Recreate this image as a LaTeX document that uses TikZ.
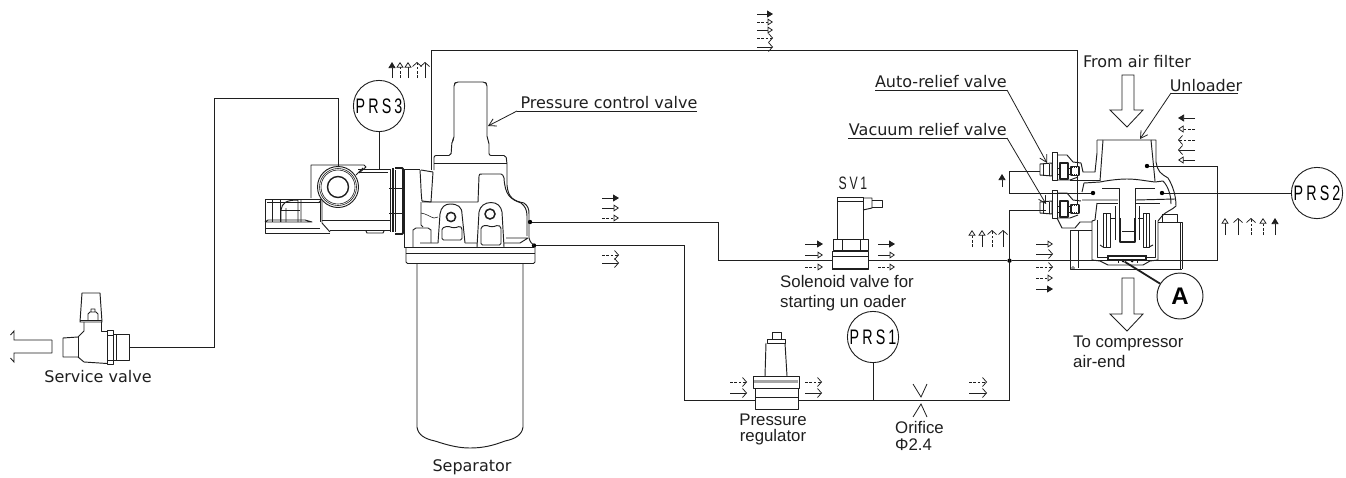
\documentclass[tikz,border=0pt]{standalone}
\usepackage{fontspec}
\setmainfont{Liberation Sans}
\newfontfamily\dvfont{DejaVu Sans}
\newfontfamily\prsfont[FakeStretch=0.68,LetterSpace=15]{Liberation Sans}
\usetikzlibrary{arrows.meta}
\definecolor{ink}{gray}{0.12}
\tikzset{
  pipe/.style={draw=ink,line width=0.95pt,line join=miter},
  part/.style={draw=ink,line width=0.95pt,line join=round},
  thin part/.style={draw=ink,line width=0.6pt,line join=round},
  heavy part/.style={draw=ink,line width=1.8pt,line join=round},
  leader/.style={draw=ink,line width=0.8pt},
  leader tip/.style={leader,-{Straight Barb[length=7pt,width=8pt]}},
  dot/.style={circle,fill=black,inner sep=0pt,minimum size=4.4pt},
  gauge/.style={circle,draw=ink,line width=0.9pt,fill=white,inner sep=0pt,minimum size=49pt,text width=49pt,align=center,font=\prsfont\fontsize{21}{21}\selectfont},
  dvlabel/.style={inner sep=0pt,text=ink,font=\dvfont\fontsize{16}{19}\selectfont},
  arlabel/.style={inner sep=0pt,text=ink,align=left,font=\fontsize{16.8}{20}\selectfont},
  fb/.style={draw=ink,line width=0.75pt,-{Triangle[length=6pt,width=7pt]}},
  fo/.style={draw=ink,line width=0.75pt,-{Triangle[open,fill=white,length=5.5pt,width=7pt]}},
  fv/.style={draw=ink,line width=0.75pt,-{Straight Barb[length=4pt,width=9pt]}},
  dsh/.style={dash pattern=on 2.6pt off 1.8pt},
  hollow/.style={draw=ink,line width=0.85pt,fill=white,line join=miter},
}
\newcommand{\flowh}[4]{\draw[#4] (#1,#3) -- (#2,#3);}
\newcommand{\flowv}[4]{\draw[#4] (#1,#2) -- (#1,#3);}
\newcommand{\reliefvalve}[1]{%
  \begin{scope}[shift={(0,#1)}]
    \draw[part] (1052,152) -- (1057,152) -- (1057,180) -- (1052,180) -- cycle;
    \draw[part] (1040,164) -- (1052,163) -- (1052,176) -- (1040,175) -- cycle;
    \draw[thin part] (1043,164) -- (1043,175) (1049,164) -- (1049,176);
    \draw[part] (1057,155) -- (1067,155) -- (1073,162) -- (1081,163);
    \draw[heavy part] (1060,163) -- (1068,163) -- (1068,179) -- (1060,179) -- cycle;
    \draw[part] (1057,168) -- (1060,168) (1057,174) -- (1060,174);
    \draw[part] (1068,168) -- (1072,168) (1068,174) -- (1072,174);
    \draw[heavy part] (1071,167) rectangle (1079,175);
    \draw[white,line width=0.5pt] (1073,167) -- (1073,175) (1075,167) -- (1075,175) (1077,167) -- (1077,175);
    \draw[part] (1057,180) -- (1070,180) -- (1078,177);
  \end{scope}}
\begin{document}
\begin{tikzpicture}[x=1pt,y=-1pt]
\useasboundingbox (0,0) rectangle (1346,477);
\fill[white] (0,0) rectangle (1346,477);

% ---------- named pipe points
\coordinate (svout) at (129,347);
\coordinate (a1) at (214,347);
\coordinate (a2) at (214,98);
\coordinate (a3) at (338,98);
\coordinate (a4) at (338,166);
\coordinate (b0) at (431,170);
\coordinate (b1) at (431,50);
\coordinate (b2) at (1077,50);
\coordinate (b3) at (1077,207);
\coordinate (c1) at (718,222);
\coordinate (c2) at (718,260.7);
\coordinate (e1) at (684,245.5);
\coordinate (e2) at (684,400);
\coordinate (e3) at (1009.5,400);
\coordinate (e4) at (1009.5,210);
\coordinate (e5) at (1046,210);
\coordinate (f1) at (1217,260.7);
\coordinate (f2) at (1217,166);
\coordinate (g1) at (1040,171);
\coordinate (g2) at (1009,171);
\coordinate (g3) at (1009,193);
\coordinate (h1) at (873,400);
\coordinate (h2) at (379,169);
\coordinate (m1) at (1123,260.7);

% ---------- named junctions
\node[dot] (jc) at (530,222) {};
\node[dot] (je) at (534,245.5) {};
\node[dot] (jm) at (1009.5,260.7) {};
\node[dot] (ju) at (1147,166) {};
\node[dot] (jl) at (1093,193) {};
\node[dot] (jr) at (1162,193) {};
\node[dot,minimum size=3.6pt] (ja) at (1123,260.7) {};
\node[dot,minimum size=3.6pt] (jb) at (1132,260.7) {};

% ---------- pipes
\draw[pipe] (svout) -- (a1) -- (a2) -- (a3) -- (a4);
\draw[pipe] (b0) -- (b1) -- (b2) -- (b3);
\draw[pipe] (jc) -- (c1) -- (c2) -- (jm);
\draw[pipe] (je) -- (e1) -- (e2) -- (e3) -- (e4) -- (e5);
\draw[pipe] (jm) -- (m1);
\draw[pipe] (jb) -- (f1) -- (f2) -- (ju);
\draw[pipe] (g1) -- (g2) -- (g3) -- (jl);

% ---------- service valve
\draw[hollow,fill=none] (52,340) -- (14,340) -- (14,331) -- (10.5,335);
\draw[hollow,fill=none] (52,353) -- (14,353) -- (14,362) -- (10.5,358) (52,340) -- (52,353);
\draw[part] (82,293) -- (100,293) -- (102,322) -- (80,322) -- cycle;
\draw[thin part] (80,320) -- (102,320);
\draw[part] (88,320) -- (88,314) -- (90,312) -- (96,312) -- (98,314) -- (98,320) (91,312) -- (91,309) -- (95,309) -- (95,312);
\draw[part] (84,322) -- (84,331) -- (78,337) -- (63,338) -- (63,357) -- (78,357) -- (84,362) -- (107,363.5);
\draw[part] (101,322) -- (101,331) -- (107,331);
\draw[part] (78,337) -- (78,357);
\draw[part] (107,330) rectangle (113,364);
\draw[thin part] (107,335) -- (113,335) (107,360) -- (113,360);
\draw[part] (113,334) rectangle (129,360);
\draw[part] (116,334) -- (116,360);
\node[dvlabel] (svlabel) at (98,377) {Service valve};

% ---------- discharge block
\draw[part] (311,198) -- (311,165) -- (364,165) -- (366,167) -- (359,173);
\draw[part] (356,175) -- (363,168);
\draw[part] (265,199) -- (321,199);
\draw[part] (265,199) -- (265,233) -- (330,233);
\draw[part] (322,199) -- (322,223) -- (330,232);
\draw[thin part] (322,199) -- (318,203);
\draw[part] (267,202) -- (320,202);
\draw[thin part] (272,199) -- (272,222) (280,199) -- (280,222);
\draw[part] (281,222) -- (281,210) .. controls (282,203) and (286,200) .. (298,200) (286,222) -- (286,208) (298,200) -- (298,222) (301,200) -- (301,222);
\draw[thin part] (281,210) -- (300,210);
\draw[part] (265,222) -- (268,220) -- (305,220) -- (312,222) -- (265,222);
\draw[thin part] (265,228) -- (320,228);
\draw[part] (320,199) -- (320,222) ;
\draw[part] (358,169) -- (390,169) -- (390,232) (330,230) -- (390,230);
\draw[thin part] (358,172) -- (388,172) (322,220) -- (390,220);
\draw[part] (366,231) -- (367,233) -- (383,233) -- (384,231);
\draw[part,fill=white] (338,187) circle (20.5);
\draw[thin part] (338,187) circle (18.5);
\draw[thin part] (338,187) circle (17);
\draw[line width=1.4pt,draw=ink] (338,187) circle (10.5);
\draw[line width=1.6pt,draw=ink] (393,168) -- (393,232);
\draw[part] (390,170) -- (390,232) (395,170) -- (395,232);
\draw[line width=1.9pt,draw=ink,rounded corners=1pt] (395,168) -- (403,168) -- (403,234) -- (395,234);
\draw[thin part] (389,188) -- (403,188) (389,213) -- (403,213);
\node[gauge] (prs3) at (379,106) {PRS3};
\draw[pipe] (prs3.south) -- (h2);

% ---------- separator head
\draw[part] (404,169) -- (420,169);
\draw[part] (404,169) -- (404,247) -- (407,247);
\draw[part,rounded corners=2pt] (434,170) -- (434,155.5) -- (451,155.5) -- (452,141) -- (454,139) -- (454,84) -- (456,82) -- (485,82) -- (487,84) -- (487,138) -- (489,142) -- (489,155.5) -- (506,155.5) -- (507,164);
\draw[part] (434,163.5) -- (507,163.5);
\draw[part] (420,170) .. controls (421,185) and (421,195) .. (422,201) -- (431,202) -- (433,172);
\draw[part] (421,170) -- (433,172);
\draw[part] (422,202) -- (478,202) -- (479,176) .. controls (479,174) and (480,174) .. (482,174) -- (501,174) .. controls (503,174) and (503,176) .. (504,178);
\draw[part] (507,164) -- (507,185) .. controls (508,198) and (514,201) .. (524,203) .. controls (528,206) and (529,209) .. (529,214) -- (529,238) .. controls (530,242) and (532,244) .. (534,245.5);
\draw[part] (504,178) .. controls (505,195) and (510,199) .. (521,203) .. controls (525,206) and (527,210) .. (527,216) -- (527,236);
\draw[part] (421,202) -- (421,225) -- (423,227);
\draw[thin part] (421,213) .. controls (427,214) and (430,217) .. (434,218) -- (438,217);
\draw[part] (413,247) -- (413,230) -- (416,228) -- (428,228) -- (431,230) -- (431,243);
\draw[part] (420,243) -- (438,243) (465,243) -- (477,243) (506,238) -- (528,238) (504,243) -- (520,243) -- (528,238);
\draw[part] (438,243) -- (440,214) .. controls (441,207) and (445,204) .. (450,204) .. controls (458,204) and (462,207) .. (462,214) -- (465,243);
\draw[part] (477,247) -- (479,212) .. controls (480,206) and (485,202.5) .. (491,202.5) .. controls (497,202.5) and (501,206) .. (502,212) -- (504,247);
\draw[part] (477,247.5) -- (504,247.5) (404,247) -- (477,247) (504,247) -- (534,247);
\draw[line width=1.5pt,draw=ink] (451,217) circle (4.6);
\draw[line width=1.5pt,draw=ink] (490,214) circle (5);
\draw[part,rounded corners=1.5pt] (442,240) -- (442,228) -- (448,226) .. controls (452,228) and (456,228) .. (460,226) -- (462,228) -- (462,240) -- cycle;
\draw[part,rounded corners=1.5pt] (481,245) -- (481,227) -- (486,225) .. controls (490,227) and (494,227) .. (498,225) -- (501,227) -- (501,245) -- cycle;
\draw[part,rounded corners=1.5pt] (406,247) -- (406,263.5) -- (535,263.5) -- (535,246);
\draw[part] (406,253) -- (535,253);

% ---------- separator
\draw[part] (417,264) -- (417,427) .. controls (418,435) and (425,439) .. (435,441) .. controls (450,446) and (460,448) .. (470,448) .. controls (482,448) and (492,446) .. (505,441) .. controls (515,439) and (522,435) .. (523,427) -- (523,264);
\node[dvlabel] (sep) at (472,467) {Separator};

% ---------- pressure control valve label
\node[dvlabel] (pcv) at (609,103) {Pressure control valve};
\coordinate (pcv1) at (697,111);
\coordinate (pcv2) at (517,111);
\coordinate (pcv3) at (488,126);
\draw[leader] (pcv1) -- (pcv2);
\draw[leader tip] (pcv2) -- (pcv3);

% ---------- solenoid valve
\node[inner sep=0pt,text=ink,font=\prsfont\fontsize{18}{18}\selectfont] (sv1) at (853,183) {SV1};
\draw[part] (837,197) rectangle (863,239);
\draw[part] (837,201) -- (863,201);
\draw[part] (863,198) -- (872,198) -- (872,208) -- (863,210);
\draw[part] (872,200) -- (882,200) -- (882,207) -- (872,207);
\draw[part] (833,239) rectangle (868,250.5);
\draw[part] (842,239) -- (842,250.5) (860,239) -- (860,250.5);
\draw[part,fill=white] (832,251) rectangle (868,269);
\draw[part] (832,256) -- (868,256);
\draw[line width=1.5pt,draw=ink] (832,269) -- (868,269);
\node[arlabel,anchor=north west] (svt) at (780,275.5) {Solenoid valve for\\starting un oader};

% ---------- pressure regulator
\draw[part] (772,332) rectangle (781,339);
\draw[part] (767,339) rectangle (785,343);
\draw[part] (766,343) -- (765,376) (785,343) -- (787,376);
\draw[part] (753,376) rectangle (799,388);
\fill[gray!70] (754,380) rectangle (798,383);
\draw[part,fill=white] (755,388) rectangle (798,409);
\draw[part] (755,397) -- (798,397);
\node[arlabel,align=center,font=\fontsize{16.8}{16}\selectfont] (reg) at (773,429) {Pressure\\regulator};

% ---------- PRS1, orifice
\node[gauge] (prs1) at (873,337) {PRS1};
\draw[pipe] (prs1.south) -- (h1);
\draw[leader] (913,384) -- (921,397) -- (927,384);
\draw[leader] (913,417) -- (921,404) -- (927,417);
\node[arlabel,anchor=north west,font=\fontsize{16.8}{17}\selectfont] (ori) at (895,421.5) {Orifice\\Φ2.4};

% ---------- unloader
\reliefvalve{0}
\reliefvalve{38}
\draw[part] (1081,163) -- (1083,172) -- (1095,172) -- (1097,153) -- (1097,140);
\draw[part] (1070,180) -- (1100,180);
\draw[part] (1097,140) -- (1156,140) -- (1156,162) .. controls (1158,172) and (1160,173) .. (1168,178) .. controls (1173,186) and (1176,196) .. (1176,206) .. controls (1172,210) and (1165,212) .. (1162,216);
\draw[part] (1103,140) -- (1100,181);
\draw[part] (1151,140) -- (1155,181);
\draw[part] (1084,183) -- (1100,182) .. controls (1110,180) and (1120,179) .. (1127,179) .. controls (1137,179) and (1146,181) .. (1155,182) -- (1163,181) .. controls (1168,186) and (1171,195) .. (1171,204);
\draw[part] (1084,183) -- (1082,192);
\draw[part] (1082,200) -- (1118,200) (1136,200) -- (1175,199);
\draw[part] (1102,188) -- (1119,188) -- (1119,218) (1135,218) -- (1135,188) -- (1155,188);
\draw[heavy part] (1120,218) -- (1120,242) -- (1135,242) -- (1135,218);
\draw[part] (1122,231) -- (1134,231);
\draw[part] (1097,203) -- (1118,203) (1136,203) -- (1160,203);
\draw[part] (1097,203) -- (1095,220) -- (1092,221) -- (1092,260) -- (1100,261) -- (1108,265) -- (1143,265) -- (1150,261) -- (1158,260) -- (1158,221) -- (1162,216);
\draw[part] (1097,220) -- (1097,257) -- (1108,257) (1146,257) -- (1155,257) -- (1155,220);
\draw[part] (1103,213) rectangle (1110,247);
\draw[part] (1106,213) -- (1106,247);
\draw[part] (1143,213) rectangle (1149,247);
\draw[part] (1146,213) -- (1146,247);
\draw[part] (1110,218) -- (1115,218) (1138,218) -- (1143,218);
\draw[part] (1115,206) -- (1115,240) (1139,206) -- (1139,240);
\draw[part] (1100,245) -- (1103,247) (1149,247) -- (1153,245);
\draw[line width=1.2pt,draw=ink] (1108,256) rectangle (1146,260);
\draw[part] (1118,260) -- (1118,263) (1137,260) -- (1137,263);
\draw[part] (1162,214) -- (1177,214) -- (1177,222);
\draw[part] (1162,214) -- (1162,222);
\draw[part] (1158,222) -- (1182,222) -- (1182,269);
\draw[part] (1180,222) -- (1180,269);
\draw[part] (1070,230) -- (1070,269) -- (1182,269);
\draw[part] (1078,230) -- (1078,268);
\draw[part] (1070,230) -- (1092,230);
\draw[part] (1057,218) -- (1062,228) -- (1075,228) -- (1080,222) -- (1092,222);
\draw[thin part] (1073,268) circle (1.5);

% ---------- big hollow arrows
\draw[hollow] (1122,75) -- (1134,75) -- (1134,110) -- (1143,110) -- (1127,127) -- (1110,110) -- (1122,110) -- cycle;
\draw[hollow] (1122,278) -- (1134,278) -- (1134,314) -- (1143,314) -- (1127,331) -- (1110,314) -- (1122,314) -- cycle;

% ---------- leaders and labels at the unloader
\node[dvlabel,anchor=base east] (auto) at (1007,87) {Auto-relief valve};
\coordinate (au1) at (875,90);
\coordinate (au2) at (1007,90);
\coordinate (au3) at (1047,163);
\draw[leader] (au1) -- (au2);
\draw[leader tip] (au2) -- (au3);
\node[dvlabel,anchor=base east] (vac) at (1007,135) {Vacuum relief valve};
\coordinate (va1) at (848,138);
\coordinate (va2) at (1007,138);
\coordinate (va3) at (1046,204);
\draw[leader] (va1) -- (va2);
\draw[leader tip] (va2) -- (va3);
\node[dvlabel] (filt) at (1137,62) {From air filter};
\node[dvlabel] (unl) at (1206,86) {Unloader};
\coordinate (un1) at (1238,93);
\coordinate (un2) at (1171,93);
\coordinate (un3) at (1140,139);
\draw[leader] (un1) -- (un2);
\draw[leader tip] (un2) -- (un3);
\node[arlabel,anchor=north west] (tocomp) at (1073,335.5) {To compressor\\air-end};

% ---------- PRS2 and A
\node[gauge] (prs2) at (1317,193) {PRS2};
\draw[pipe] (jr) -- (prs2.west);
\node[circle,draw=ink,line width=0.95pt,fill=white,inner sep=0pt,minimum size=46pt,font=\bfseries\fontsize{24}{24}\selectfont] (ca) at (1180,296) {A};
\draw[draw=ink,line width=1.8pt] (ja) -- (ca);

% ---------- flow marks
\flowh{757}{773}{14}{fb}
\flowh{757}{773}{22}{fo,dsh}
\flowh{757}{773}{30}{fo}
\flowh{757}{773}{38}{fv,dsh}
\flowh{757}{773}{47}{fv}

\flowv{392}{78}{62}{fb}
\flowv{400}{78}{62}{fo,dsh}
\flowv{408}{78}{62}{fo}
\flowv{417}{78}{62}{fv,dsh}
\flowv{425}{78}{62}{fv}

\flowh{602}{619}{198}{fb}
\flowh{602}{619}{208}{fo}
\flowh{602}{619}{218}{fo,dsh}
\flowh{602}{619}{255}{fv,dsh}
\flowh{602}{619}{263}{fv}

\flowh{805}{823}{244}{fb}
\flowh{805}{823}{255}{fo}
\flowh{805}{823}{267}{fo,dsh}
\flowh{878}{895}{244}{fb}
\flowh{878}{895}{255}{fo}
\flowh{878}{895}{267}{fo,dsh}

\flowh{730}{747}{382}{fv,dsh}
\flowh{730}{747}{393}{fv}
\flowh{805}{822}{382}{fv,dsh}
\flowh{805}{822}{393}{fv}
\flowh{969}{987}{382}{fv,dsh}
\flowh{969}{987}{393}{fv}

\flowv{972}{247}{230}{fo,dsh}
\flowv{982}{247}{230}{fo}
\flowv{992}{247}{230}{fv,dsh}
\flowv{1003}{247}{230}{fv}
\flowv{1002}{187}{174}{fb}

\flowh{1036}{1053}{244}{fo}
\flowh{1036}{1053}{254}{fv}
\flowh{1036}{1053}{267}{fv,dsh}
\flowh{1036}{1053}{278}{fo,dsh}
\flowh{1036}{1053}{289}{fb}

\flowh{1195}{1178}{118}{fb}
\flowh{1195}{1178}{129}{fo,dsh}
\flowh{1195}{1178}{140}{fv,dsh}
\flowh{1195}{1178}{150}{fv}
\flowh{1195}{1178}{160}{fo}

\flowv{1225}{235}{218}{fo}
\flowv{1238}{235}{218}{fv}
\flowv{1251}{235}{218}{fv,dsh}
\flowv{1263}{235}{218}{fo,dsh}
\flowv{1275}{235}{218}{fb}
\end{tikzpicture}
\end{document}
